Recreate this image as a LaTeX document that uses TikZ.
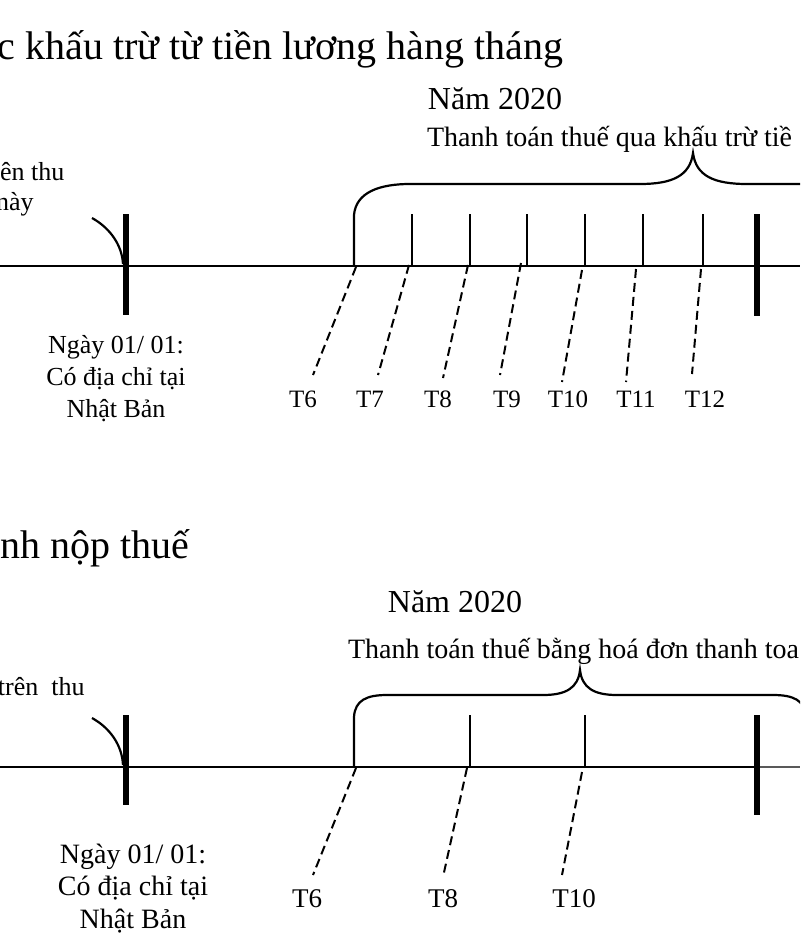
\documentclass[tikz,border=0pt]{standalone}
\usepackage{fontspec}
\setmainfont{Liberation Serif}
\begin{document}
\begin{tikzpicture}[x=1pt,y=-1pt,
  axis/.style={line width=2pt},
  tickline/.style={line width=2pt},
  thickbar/.style={line width=6pt},
  bracepath/.style={line width=2.2pt},
  dsh/.style={line width=2pt,dash pattern=on 9pt off 5pt},
  txt/.style={inner sep=0pt,outer sep=0pt},
  ttl/.style={txt,anchor=base west,font=\fontsize{40}{48}\selectfont},
  yr/.style={txt,anchor=base,font=\fontsize{32}{38}\selectfont},
  sub/.style={txt,anchor=base west,font=\fontsize{28}{34}\selectfont},
  lt/.style={txt,anchor=base west,font=\fontsize{26}{30}\selectfont},
  dateA/.style={txt,anchor=base,font=\fontsize{26}{30}\selectfont},
  dateB/.style={txt,anchor=base,font=\fontsize{28}{32}\selectfont},
  mA/.style={txt,anchor=base,font=\fontsize{25}{30}\selectfont},
  mB/.style={txt,anchor=base,font=\fontsize{27}{32}\selectfont}]
\useasboundingbox (0,0) rectangle (800,952);
\clip (0,0) rectangle (800,952);
\fill[white] (0,0) rectangle (800,952);

% ================= TOP PART =================
\node[ttl] (title1) at (-2,60) {c khấu trừ từ tiền lương hàng tháng};
\node[yr] (year1) at (495,110) {Năm 2020};
\node[sub] (sub1) at (427,147) {Thanh toán thuế qua khấu trừ tiề};
\node[lt] (left1a) at (0,180) {ên thu};
\node[lt] (left1b) at (-4,210) {này};
\node[dateA] (date1a) at (116,353) {Ngày 01/ 01:};
\node[dateA] (date1b) at (116,385) {Có địa chỉ tại};
\node[dateA] (date1c) at (116,417) {Nhật Bản};

\coordinate (L1) at (0,266);
\coordinate (R1) at (800,266);
\draw[axis] (L1) -- (R1);

% thick bars
\coordinate (b1t) at (126,214); \coordinate (b1b) at (126,315);
\coordinate (b2t) at (757,214); \coordinate (b2b) at (757,316);
\draw[thickbar] (b1t) -- (b1b);
\draw[thickbar] (b2t) -- (b2b);

% small arc at left bar
\coordinate (a1s) at (92,218); \coordinate (a1e) at (123,264);
\draw[bracepath] (a1s) .. controls (110,228) and (122,245) .. (a1e);

% brace
\draw[bracepath] (354,266) -- (354,215) .. controls (356,192) and (380,184) .. (410,184)
  -- (640,184) .. controls (672,184) and (690,176) .. (693,153)
  .. controls (696,176) and (714,184) .. (747,184) -- (820,184);

% ticks
\foreach \x in {412,470,527,585,643,703}
  \draw[tickline] (\x,266) -- (\x,214);

% month labels and dashed links
\node[mA] (m6) at (303,407) {T6};
\node[mA] (m7) at (370,407) {T7};
\node[mA] (m8) at (438,407) {T8};
\node[mA] (m9) at (507,407) {T9};
\node[mA] (m10) at (568,407) {T10};
\node[mA] (m11) at (636,407) {T11};
\node[mA] (m12) at (705,407) {T12};
\coordinate (d6s) at (356,267);  \coordinate (d6e) at (313,375);
\coordinate (d7s) at (409,265);  \coordinate (d7e) at (378,375);
\coordinate (d8s) at (468,265);  \coordinate (d8e) at (443,378);
\coordinate (d9s) at (521,263);  \coordinate (d9e) at (500,375);
\coordinate (d10s) at (582,270); \coordinate (d10e) at (562,382);
\coordinate (d11s) at (636,269); \coordinate (d11e) at (626,382);
\coordinate (d12s) at (701,269); \coordinate (d12e) at (692,374);
\foreach \k in {6,...,12}
  \draw[dsh] (d\k s) -- (d\k e);

% ================= BOTTOM PART =================
\node[ttl] (title2) at (0,558) {nh nộp thuế};
\node[yr] (year2) at (455,612) {Năm 2020};
\node[sub] (sub2) at (348,658) {Thanh toán thuế bằng hoá đơn thanh toa};
\node[lt] (left2a) at (-2,695) {trên\ \ thu};
\node[dateB] (date2a) at (133,863) {Ngày 01/ 01:};
\node[dateB] (date2b) at (133,895) {Có địa chỉ tại};
\node[dateB] (date2c) at (133,928) {Nhật Bản};

\coordinate (L2) at (0,767);
\coordinate (M2) at (757,767);
\coordinate (R2) at (800,767);
\draw[axis] (L2) -- (M2);
\draw[line width=1.6pt,black!65] (M2) -- (R2);

\coordinate (b3t) at (126,715); \coordinate (b3b) at (126,805);
\coordinate (b4t) at (757,715); \coordinate (b4b) at (757,815);
\draw[thickbar] (b3t) -- (b3b);
\draw[thickbar] (b4t) -- (b4b);

\coordinate (a2s) at (92,718); \coordinate (a2e) at (123,765);
\draw[bracepath] (a2s) .. controls (110,728) and (122,745) .. (a2e);

\draw[bracepath] (354,767) -- (354,717) .. controls (355,700) and (367,695) .. (387,695)
  -- (543,695) .. controls (566,695) and (578,688) .. (580,670)
  .. controls (582,688) and (594,695) .. (617,695) -- (773,695)
  .. controls (793,695) and (805,700) .. (806,717);

\foreach \x in {470,585}
  \draw[tickline] (\x,767) -- (\x,715);

\node[mB] (n6) at (307,907) {T6};
\node[mB] (n8) at (443,907) {T8};
\node[mB] (n10) at (574,907) {T10};
\coordinate (e6s) at (356,768);  \coordinate (e6e) at (313,875);
\coordinate (e8s) at (467,768);  \coordinate (e8e) at (443,877);
\coordinate (e10s) at (582,772); \coordinate (e10e) at (562,875);
\foreach \k in {6,8,10}
  \draw[dsh] (e\k s) -- (e\k e);
\end{tikzpicture}
\end{document}
